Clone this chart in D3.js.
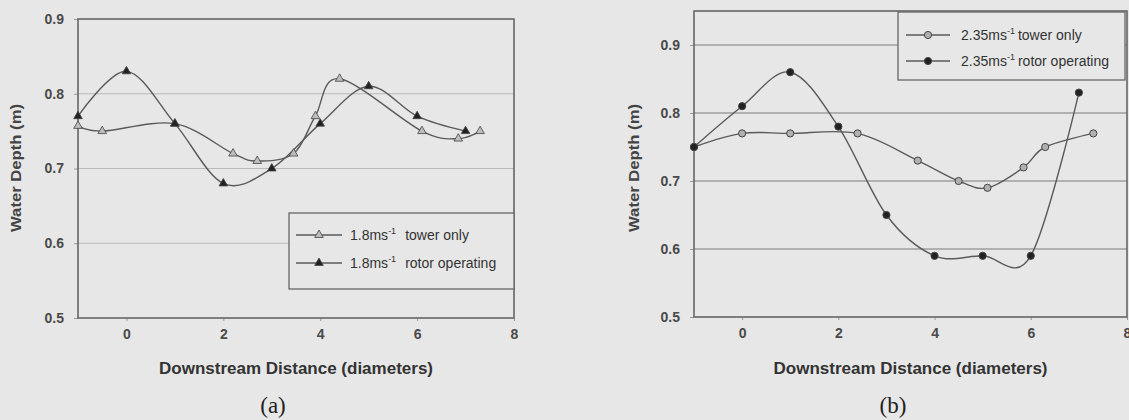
<!DOCTYPE html>
<html><head><meta charset="utf-8">
<script src="https://cdn.jsdelivr.net/npm/d3@7"></script>
<style>
html,body{margin:0;padding:0;background:#e7e7e7;}
svg{display:block;}
text{font-family:Arial,"Liberation Sans",sans-serif;}
</style></head>
<body>
<svg id="c" width="1129" height="420"></svg>
<script>
// ---- Panel (a) data ----
const aTowerX = [-1, -0.5, 1, 2.2, 2.7, 3.45, 3.9, 4.4, 6.1, 6.85, 7.3];
const aTowerY = [0.757, 0.75, 0.76, 0.72, 0.71, 0.72, 0.77, 0.82, 0.75, 0.74, 0.75];
const aRotorX = [-1, 0, 1, 2, 3, 4, 5, 6, 7];
const aRotorY = [0.77, 0.83, 0.76, 0.68, 0.70, 0.76, 0.81, 0.77, 0.75];
const aLegend = ["tower only", "rotor operating"];
const aSpeed = "1.8ms";
// ---- Panel (b) data ----
const bTowerX = [-1, 0, 1, 2.4, 3.65, 4.5, 5.1, 5.85, 6.3, 7.3];
const bTowerY = [0.75, 0.77, 0.77, 0.77, 0.73, 0.70, 0.69, 0.72, 0.75, 0.77];
const bRotorX = [-1, 0, 1, 2, 3, 4, 5, 6, 7];
const bRotorY = [0.75, 0.81, 0.86, 0.78, 0.65, 0.59, 0.59, 0.59, 0.83];
const bLegend = ["tower only", "rotor operating"];
const bSpeed = "2.35ms";
// ---- axes ----
const xTicks = [0, 2, 4, 6, 8];
const yTicksA = [0.5, 0.6, 0.7, 0.8, 0.9];
const yTicksB = [0.5, 0.6, 0.7, 0.8, 0.9];
const xTitle = "Downstream Distance (diameters)";
const yTitle = "Water Depth (m)";

const svg = d3.select("#c");
const axisCol = "#666";

function panel(cfg){
  const g = svg.append("g");
  const x = d3.scaleLinear().domain([-1, 8]).range([cfg.left, cfg.right]);
  const y = d3.scaleLinear().domain(cfg.ydom).range([cfg.bottom, cfg.top]);
  // gridlines
  g.selectAll("line.grid").data(cfg.yticks.filter(v => v > cfg.ydom[0] && y(v) > cfg.top + 1))
    .enter().append("line")
    .attr("x1", cfg.left).attr("x2", cfg.right)
    .attr("y1", d => y(d)).attr("y2", d => y(d))
    .attr("stroke", cfg.gridCol).attr("stroke-width", 1.2);
  // axes
  const ax = g.append("g").attr("transform", `translate(0,${cfg.bottom})`)
    .call(d3.axisBottom(x).tickValues(xTicks).tickSize(3).tickFormat(d3.format("d")));
  const ay = g.append("g").attr("transform", `translate(${cfg.left},0)`)
    .call(d3.axisLeft(y).tickValues(cfg.yticks).tickSize(4).tickFormat(d3.format(".1f")));
  [ax, ay].forEach(a => {
    a.select(".domain").remove();
    a.selectAll("line").attr("stroke", "#999");
    a.selectAll("text").attr("fill", "#4a4a4a").style("font-size", "14px").style("font-weight", "bold");
  });
  ax.selectAll("text").attr("dy", "1.05em");
  ay.selectAll("text").attr("x", -14);
  // frame
  g.append("rect").attr("x", cfg.left).attr("y", cfg.top)
    .attr("width", cfg.right - cfg.left).attr("height", cfg.bottom - cfg.top)
    .attr("fill", "none").attr("stroke", axisCol).attr("stroke-width", 1.6);
  // titles
  g.append("text").attr("x", (cfg.left + cfg.right) / 2).attr("y", 374)
    .attr("text-anchor", "middle").attr("fill", "#333").style("font-size", "16px").style("font-weight", "bold")
    .attr("textLength", 274).attr("lengthAdjust", "spacingAndGlyphs")
    .text(xTitle);
  g.append("text").attr("transform", `translate(${cfg.ytX},${cfg.ytY}) rotate(-90)`)
    .attr("text-anchor", "middle").attr("fill", "#444").style("font-size", "15px").style("font-weight", "bold")
    .attr("textLength", 128).attr("lengthAdjust", "spacingAndGlyphs")
    .text(yTitle);
  g.append("text").attr("x", cfg.capX).attr("y", 413).attr("text-anchor", "middle")
    .style("font-family", "'Liberation Serif','Times New Roman',serif").style("font-size", "23px").attr("fill", "#222")
    .text(cfg.cap);

  const line = d3.line().x(d => x(d[0])).y(d => y(d[1])).curve(d3.curveCardinal.tension(0));
  const series = [
    {pts: d3.zip(cfg.tx, cfg.ty), fill: cfg.towerFill},
    {pts: d3.zip(cfg.rx, cfg.ry), fill: "#222"}
  ];
  const clipId = "clip" + cfg.cap.replace(/\W/g, "");
  svg.append("clipPath").attr("id", clipId).append("rect")
    .attr("x", cfg.left).attr("y", cfg.top).attr("width", cfg.right - cfg.left).attr("height", cfg.bottom - cfg.top);
  series.forEach(s => {
    g.append("path").datum(s.pts).attr("d", line).attr("fill", "none")
      .attr("stroke", "#5a5a5a").attr("stroke-width", 1.4).attr("clip-path", `url(#${clipId})`);
  });
  series.forEach(s => {
    cfg.marker(g.selectAll(null).data(s.pts).enter(), d => x(d[0]), d => y(d[1]), s.fill);
  });
  // legend
  const L = cfg.legend;
  g.append("rect").attr("x", L.x).attr("y", L.y).attr("width", L.w).attr("height", L.h)
    .attr("fill", "#e7e7e7").attr("stroke", axisCol).attr("stroke-width", 1.3);
  cfg.labels.forEach((lab, i) => {
    const yy = L.y + L.r0 + i * L.dr;
    g.append("line").attr("x1", L.x + L.lx0).attr("x2", L.x + L.lx1).attr("y1", yy).attr("y2", yy)
      .attr("stroke", "#5a5a5a").attr("stroke-width", 1.4);
    cfg.marker(g.selectAll(null).data([0]).enter(), () => L.x + (L.lx0 + L.lx1) / 2, () => yy,
      i === 0 ? cfg.towerFill : "#222");
    const t = g.append("text").attr("x", L.x + L.tx).attr("y", yy + 5).attr("fill", "#333")
      .style("font-size", "14px");
    t.append("tspan").text(cfg.speed);
    t.append("tspan").attr("dy", -6).style("font-size", "9px").text("-1");
    t.append("tspan").attr("dy", 6).attr("dx", L.gap).text(lab);
  });
}

function triangles(sel, fx, fy, fill){
  sel.append("path").attr("d", d3.symbol(d3.symbolTriangle, 32))
    .attr("transform", d => `translate(${fx(d)},${fy(d)})`)
    .attr("fill", fill).attr("stroke", "#444").attr("stroke-width", 0.8);
}
function circles(sel, fx, fy, fill){
  sel.append("circle").attr("cx", fx).attr("cy", fy).attr("r", 3.6)
    .attr("fill", fill).attr("stroke", "#444").attr("stroke-width", 1);
}

panel({left: 78, right: 514, top: 19, bottom: 318, ydom: [0.5, 0.9], yticks: yTicksA,
  gridCol: "#b9b9b9", tx: aTowerX, ty: aTowerY, rx: aRotorX, ry: aRotorY, towerFill: "#bdbdbd",
  marker: triangles, labels: aLegend, speed: aSpeed, cap: "(a)", capX: 273,
  ytX: 21, ytY: 168,
  legend: {x: 289, y: 213, w: 225, h: 76, r0: 22, dr: 28, lx0: 7, lx1: 53, tx: 61, gap: 9}});

panel({left: 694, right: 1127, top: 11, bottom: 317, ydom: [0.5, 0.95], yticks: yTicksB,
  gridCol: "#7a7a7a", tx: bTowerX, ty: bTowerY, rx: bRotorX, ry: bRotorY, towerFill: "#b0b0b0",
  marker: circles, labels: bLegend, speed: bSpeed, cap: "(b)", capX: 893,
  ytX: 639, ytY: 168,
  legend: {x: 898, y: 12, w: 227, h: 68, r0: 23, dr: 26, lx0: 8, lx1: 52, tx: 63, gap: 3}});
</script>
</body></html>
